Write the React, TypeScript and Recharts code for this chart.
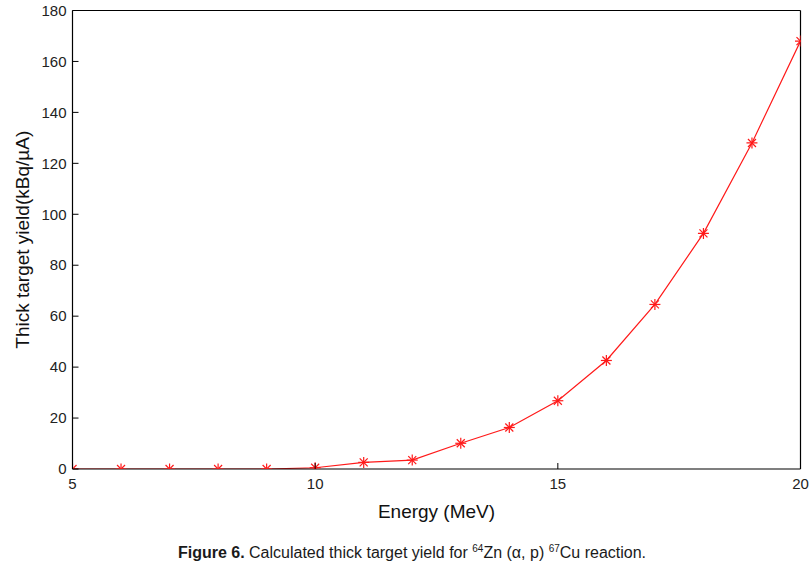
import { LineChart, Line, XAxis, YAxis, Label } from 'recharts';

const energy = [5, 6, 7, 8, 9, 10, 11, 12, 13, 14, 15, 16, 17, 18, 19, 20];
const yieldValues = [0, 0, 0, 0, 0, 0.5, 2.6, 3.5, 10.1, 16.3, 26.8, 42.6, 64.6, 92.5, 128, 168];
const xTicks = [5, 10, 15, 20];
const yTicks = [0, 20, 40, 60, 80, 100, 120, 140, 160, 180];

const chartData = energy.map((e, i) => ({ energy: e, yield: yieldValues[i] }));

const FONT = '"Liberation Sans", Arial, sans-serif';
// default tickSize (6) + tickMargin (2) between axis line and tick's x/y
const TICK_OFFSET = 8;

const BottomTick = (props: any) => {
  const { x, y, payload } = props;
  const axisY = y - TICK_OFFSET;
  return (
    <g>
      <line x1={x} x2={x} y1={axisY} y2={axisY - 6} stroke="#000" />
      <text x={x} y={axisY + 8} dy="0.8em" textAnchor="middle" fontSize={15} fill="#222" fontFamily={FONT}>
        {payload.value}
      </text>
    </g>
  );
};

const LeftTick = (props: any) => {
  const { x, y, payload } = props;
  const axisX = x + TICK_OFFSET;
  return (
    <g>
      <line x1={axisX} x2={axisX + 6} y1={y} y2={y} stroke="#000" />
      <text x={axisX - 6} y={y} dy="0.35em" textAnchor="end" fontSize={15} fill="#222" fontFamily={FONT}>
        {payload.value}
      </text>
    </g>
  );
};

const Star = (props: any) => {
  const { cx, cy } = props;
  if (cx == null || cy == null) return null;
  const r = 5.5;
  const d = 4;
  return (
    <g stroke="#ff1a1a" strokeWidth={1.2}>
      <line x1={cx - r} x2={cx + r} y1={cy} y2={cy} />
      <line x1={cx} x2={cx} y1={cy - r} y2={cy + r} />
      <line x1={cx - d} x2={cx + d} y1={cy - d} y2={cy + d} />
      <line x1={cx - d} x2={cx + d} y1={cy + d} y2={cy - d} />
    </g>
  );
};

export default function App() {
  return (
    <div style={{ position: 'absolute', left: 0, top: 0, width: 812, height: 573, background: '#fff' }}>
      <LineChart
        width={812}
        height={573}
        data={chartData}
        margin={{ top: 10.5, right: 11.5, left: 0, bottom: 54 }}
      >
        <XAxis
          xAxisId="b"
          dataKey="energy"
          type="number"
          domain={[5, 20]}
          ticks={xTicks}
          orientation="bottom"
          axisLine={{ stroke: '#000', strokeWidth: 1.2 }}
          tickLine={false}
          tick={<BottomTick />}
          height={50}
          allowDataOverflow
        >
          <Label
            value="Energy (MeV)"
            position="insideBottom"
            offset={1}
            style={{ fontSize: 19, fill: '#111', fontFamily: FONT }}
          />
        </XAxis>
        <XAxis
          xAxisId="t"
          dataKey="energy"
          type="number"
          domain={[5, 20]}
          ticks={xTicks}
          orientation="top"
          mirror
          tick={false}
          tickSize={6}
          axisLine={{ stroke: '#000', strokeWidth: 1.2 }}
          tickLine={{ stroke: '#000' }}
        />
        <YAxis
          yAxisId="l"
          type="number"
          domain={[0, 180]}
          ticks={yTicks}
          orientation="left"
          width={72.5}
          axisLine={{ stroke: '#000', strokeWidth: 1.2 }}
          tickLine={false}
          tick={<LeftTick />}
          allowDataOverflow
        >
          <Label
            value="Thick target yield(kBq/µA)"
            angle={-90}
            position="insideLeft"
            offset={22}
            style={{ fontSize: 19, fill: '#111', fontFamily: FONT, textAnchor: 'middle' }}
          />
        </YAxis>
        <YAxis
          yAxisId="r"
          type="number"
          domain={[0, 180]}
          ticks={yTicks}
          orientation="right"
          mirror
          tick={false}
          tickSize={6}
          axisLine={{ stroke: '#000', strokeWidth: 1.2 }}
          tickLine={{ stroke: '#000' }}
        />
        <Line
          xAxisId="b"
          yAxisId="l"
          dataKey="yield"
          type="linear"
          stroke="#ff1a1a"
          strokeWidth={1.2}
          dot={<Star />}
          activeDot={false}
          isAnimationActive={false}
        />
      </LineChart>
      <div
        style={{
          position: 'absolute',
          left: 0,
          top: 543,
          width: 824,
          textAlign: 'center',
          fontFamily: FONT,
          fontSize: 16,
          color: '#1a1a1a',
        }}
      >
        <b>Figure 6.</b> Calculated thick target yield for <sup style={{ fontSize: 10 }}>64</sup>Zn (α, p){' '}
        <sup style={{ fontSize: 10 }}>67</sup>Cu reaction.
      </div>
    </div>
  );
}
